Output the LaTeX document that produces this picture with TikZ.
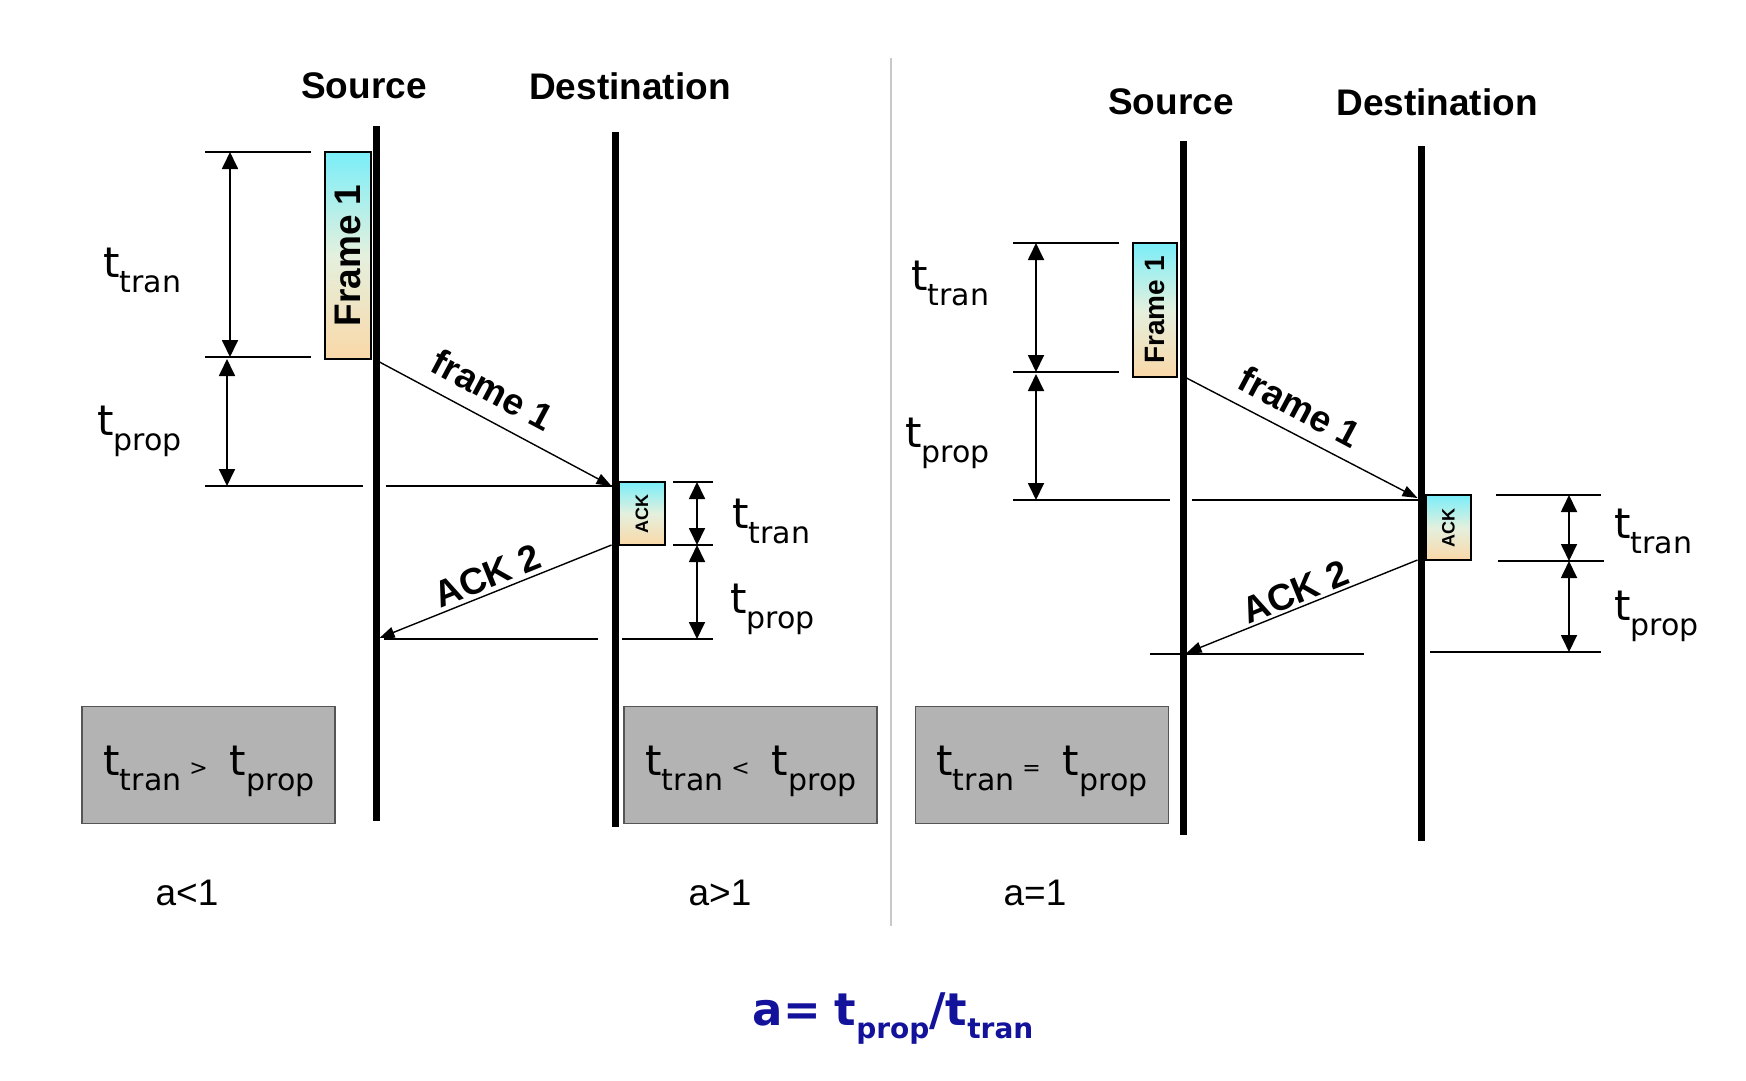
\documentclass[tikz,border=0pt]{standalone}
\usepackage{fontspec}
\setmainfont{Liberation Sans}
\newfontfamily\tfont{DejaVu Sans}
\usetikzlibrary{arrows.meta}
\definecolor{grayfill}{RGB}{179,179,179}
\definecolor{grayedge}{RGB}{85,85,85}
\definecolor{fcyan}{RGB}{122,238,248}
\definecolor{fpeach}{RGB}{250,216,168}
\definecolor{fmid}{RGB}{228,240,222}
\definecolor{navyblue}{RGB}{18,18,155}
\definecolor{dividergray}{RGB}{200,200,200}
\newcommand{\fsz}[1]{\fontsize{#1}{#1}\selectfont}
\newcommand{\tq}[1]{{\tfont\fsz{42}t}\raisebox{-15pt}{\tfont\fsz{30}#1}}
\begin{document}
\begin{tikzpicture}[x=1pt,y=-1pt,
  lifeline/.style={line width=7pt},
  tickline/.style={line width=1.6pt},
  dimarrow/.style={line width=1.8pt,{Triangle[width=16pt,length=17pt]}-{Triangle[width=16pt,length=17pt]}},
  msgarrow/.style={line width=1.4pt,-{Triangle[width=11pt,length=15pt]}},
  headlab/.style={font=\bfseries\fsz{37}},
  msglab/.style={font=\bfseries\fsz{37},inner sep=0pt},
  framebox/.style={draw=black,line width=1.3pt,top color=fcyan,bottom color=fpeach,middle color=fmid,inner sep=0pt},
  tlab/.style={anchor=base west,inner sep=0pt},
  graybox/.style={draw=grayedge,line width=1.6pt,fill=grayfill,minimum width=253pt,minimum height=117pt,inner sep=0pt},
  boxtext/.style={anchor=base,inner sep=0pt},
  alab/.style={font=\fsz{37},inner sep=0pt},
  formula/.style={font=\tfont\bfseries\fsz{45},text=navyblue,inner sep=0pt}
]
\path[use as bounding box] (0,0) rectangle (1746,1080);

% ---------------- left panel ----------------
\node[headlab] (srcL) at (364,86) {Source};
\node[headlab] (dstL) at (630,86) {Destination};
\coordinate (sL1) at (376,126); \coordinate (sL2) at (376,821);
\coordinate (dL1) at (615,132); \coordinate (dL2) at (615,827);
\draw[lifeline] (sL1) -- (sL2);
\draw[lifeline] (dL1) -- (dL2);

\node[framebox,minimum width=46pt,minimum height=207pt] (frL) at (348,255.5) {};
\node[rotate=90,font=\bfseries\fsz{37},inner sep=0pt] (frLt) at (frL.center) {Frame 1};
\node[framebox,minimum width=46pt,minimum height=63pt] (ackL) at (642,513.5) {};
\node[rotate=90,font=\bfseries\fsz{18},inner sep=0pt] (ackLt) at (ackL.center) {ACK};

% ticks left
\coordinate (a1) at (205,152); \coordinate (a2) at (311,152);
\coordinate (b1) at (205,357); \coordinate (b2) at (311,357);
\coordinate (c1) at (205,486); \coordinate (c2) at (363,486);
\coordinate (c3) at (386,486); \coordinate (c4) at (611.5,486);
\draw[tickline] (a1) -- (a2);
\draw[tickline] (b1) -- (b2);
\draw[tickline] (c1) -- (c2);
\draw[tickline] (c3) -- (c4);
\coordinate (d1) at (673,482); \coordinate (d2) at (713,482);
\coordinate (e1) at (673,545); \coordinate (e2) at (713,545);
\coordinate (g1a) at (384,639); \coordinate (g1b) at (598,639);
\coordinate (g2a) at (622,639); \coordinate (g2b) at (713,639);
\draw[tickline] (d1) -- (d2);
\draw[tickline] (e1) -- (e2);
\draw[tickline] (g1a) -- (g1b);
\draw[tickline] (g2a) -- (g2b);

% dimension arrows left
\coordinate (p1) at (230,152); \coordinate (p2) at (230,357);
\coordinate (p3) at (227,359); \coordinate (p4) at (227,486);
\draw[dimarrow] (p1) -- (p2);
\draw[dimarrow] (p3) -- (p4);
\coordinate (q1) at (697,482); \coordinate (q2) at (697,545);
\coordinate (q3) at (697,545); \coordinate (q4) at (697,639);
\draw[dimarrow] (q1) -- (q2);
\draw[dimarrow] (q3) -- (q4);

% messages left
\coordinate (mf1) at (379.5,362); \coordinate (mf2) at (611.5,486);
\draw[msgarrow] (mf1) -- (mf2);
\coordinate (ma1) at (611.5,545); \coordinate (ma2) at (379.5,638);
\draw[msgarrow] (ma1) -- (ma2);
\node[msglab,rotate=-28] (lfL) at (493,390) {frame 1};
\node[msglab,rotate=22] (laL) at (487,576) {ACK 2};

% t labels left
\node[tlab] (tL1) at (103,277) {\tq{tran}};
\node[tlab] (tL2) at (97,435) {\tq{prop}};
\node[tlab] (tL3) at (732,528) {\tq{tran}};
\node[tlab] (tL4) at (730,613) {\tq{prop}};

% gray boxes
\node[graybox] (gb1) at (208.5,765) {};
\node[boxtext] (gb1t) at (209,775) {\tq{tran}\hspace{8pt}{\tfont\fsz{22}>}\hspace{22pt}\tq{prop}};
\node[graybox] (gb2) at (750.5,765) {};
\node[boxtext] (gb2t) at (751,775) {\tq{tran}\hspace{8pt}{\tfont\fsz{22}<}\hspace{22pt}\tq{prop}};
\node[alab] (aL) at (187,893) {a<1};
\node[alab] (aM) at (720,893) {a>1};

% divider
\coordinate (dv1) at (891,58); \coordinate (dv2) at (891,926);
\draw[dividergray,line width=1.5pt] (dv1) -- (dv2);

% ---------------- right panel ----------------
\node[headlab] (srcR) at (1171,102) {Source};
\node[headlab] (dstR) at (1437,102) {Destination};
\coordinate (sR1) at (1183,141); \coordinate (sR2) at (1183,835);
\coordinate (dR1) at (1421,146); \coordinate (dR2) at (1421,841);
\draw[lifeline] (sR1) -- (sR2);
\draw[lifeline] (dR1) -- (dR2);

\node[framebox,minimum width=44pt,minimum height=134pt] (frR) at (1155,310) {};
\node[rotate=90,font=\bfseries\fsz{28},inner sep=0pt] (frRt) at (frR.center) {Frame 1};
\node[framebox,minimum width=45pt,minimum height=65pt] (ackR) at (1448.5,527.5) {};
\node[rotate=90,font=\bfseries\fsz{18},inner sep=0pt] (ackRt) at (ackR.center) {ACK};

\coordinate (ra1) at (1013,243); \coordinate (ra2) at (1119,243);
\coordinate (rb1) at (1013,372); \coordinate (rb2) at (1119,372);
\coordinate (rc1) at (1013,500); \coordinate (rc2) at (1170,500);
\coordinate (rc3) at (1192,500); \coordinate (rc4) at (1417.5,500);
\draw[tickline] (ra1) -- (ra2);
\draw[tickline] (rb1) -- (rb2);
\draw[tickline] (rc1) -- (rc2);
\draw[tickline] (rc3) -- (rc4);
\coordinate (rd1) at (1496,495); \coordinate (rd2) at (1601,495);
\coordinate (re1) at (1498,561); \coordinate (re2) at (1604,561);
\coordinate (rg1a) at (1150,654); \coordinate (rg1b) at (1364,654);
\coordinate (rg2a) at (1430,652); \coordinate (rg2b) at (1601,652);
\draw[tickline] (rd1) -- (rd2);
\draw[tickline] (re1) -- (re2);
\draw[tickline] (rg1a) -- (rg1b);
\draw[tickline] (rg2a) -- (rg2b);

\coordinate (rp1) at (1036,243); \coordinate (rp2) at (1036,372);
\coordinate (rp3) at (1036,374); \coordinate (rp4) at (1036,500);
\draw[dimarrow] (rp1) -- (rp2);
\draw[dimarrow] (rp3) -- (rp4);
\coordinate (rq1) at (1569,495); \coordinate (rq2) at (1569,561);
\coordinate (rq3) at (1569,561); \coordinate (rq4) at (1569,652);
\draw[dimarrow] (rq1) -- (rq2);
\draw[dimarrow] (rq3) -- (rq4);

\coordinate (rmf1) at (1186.5,378); \coordinate (rmf2) at (1417.5,498);
\draw[msgarrow] (rmf1) -- (rmf2);
\coordinate (rma1) at (1417.5,560); \coordinate (rma2) at (1186.5,653);
\draw[msgarrow] (rma1) -- (rma2);
\node[msglab,rotate=-28] (lfR) at (1300,407) {frame 1};
\node[msglab,rotate=22] (laR) at (1295,592) {ACK 2};

\node[tlab] (tR1) at (911,290) {\tq{tran}};
\node[tlab] (tR2) at (905,447) {\tq{prop}};
\node[tlab] (tR3) at (1614,538) {\tq{tran}};
\node[tlab] (tR4) at (1614,620) {\tq{prop}};

\node[graybox] (gb3) at (1042,765) {};
\node[boxtext] (gb3t) at (1042,775) {\tq{tran}\hspace{8pt}{\tfont\fsz{22}=}\hspace{22pt}\tq{prop}};
\node[alab] (aR) at (1035,893) {a=1};

% formula
\node[formula,anchor=base] (fm) at (893,1025) {a=\hspace{14pt}t\raisebox{-13pt}{\fsz{28}prop}/t\raisebox{-13pt}{\fsz{28}tran}};
\end{tikzpicture}
\end{document}
